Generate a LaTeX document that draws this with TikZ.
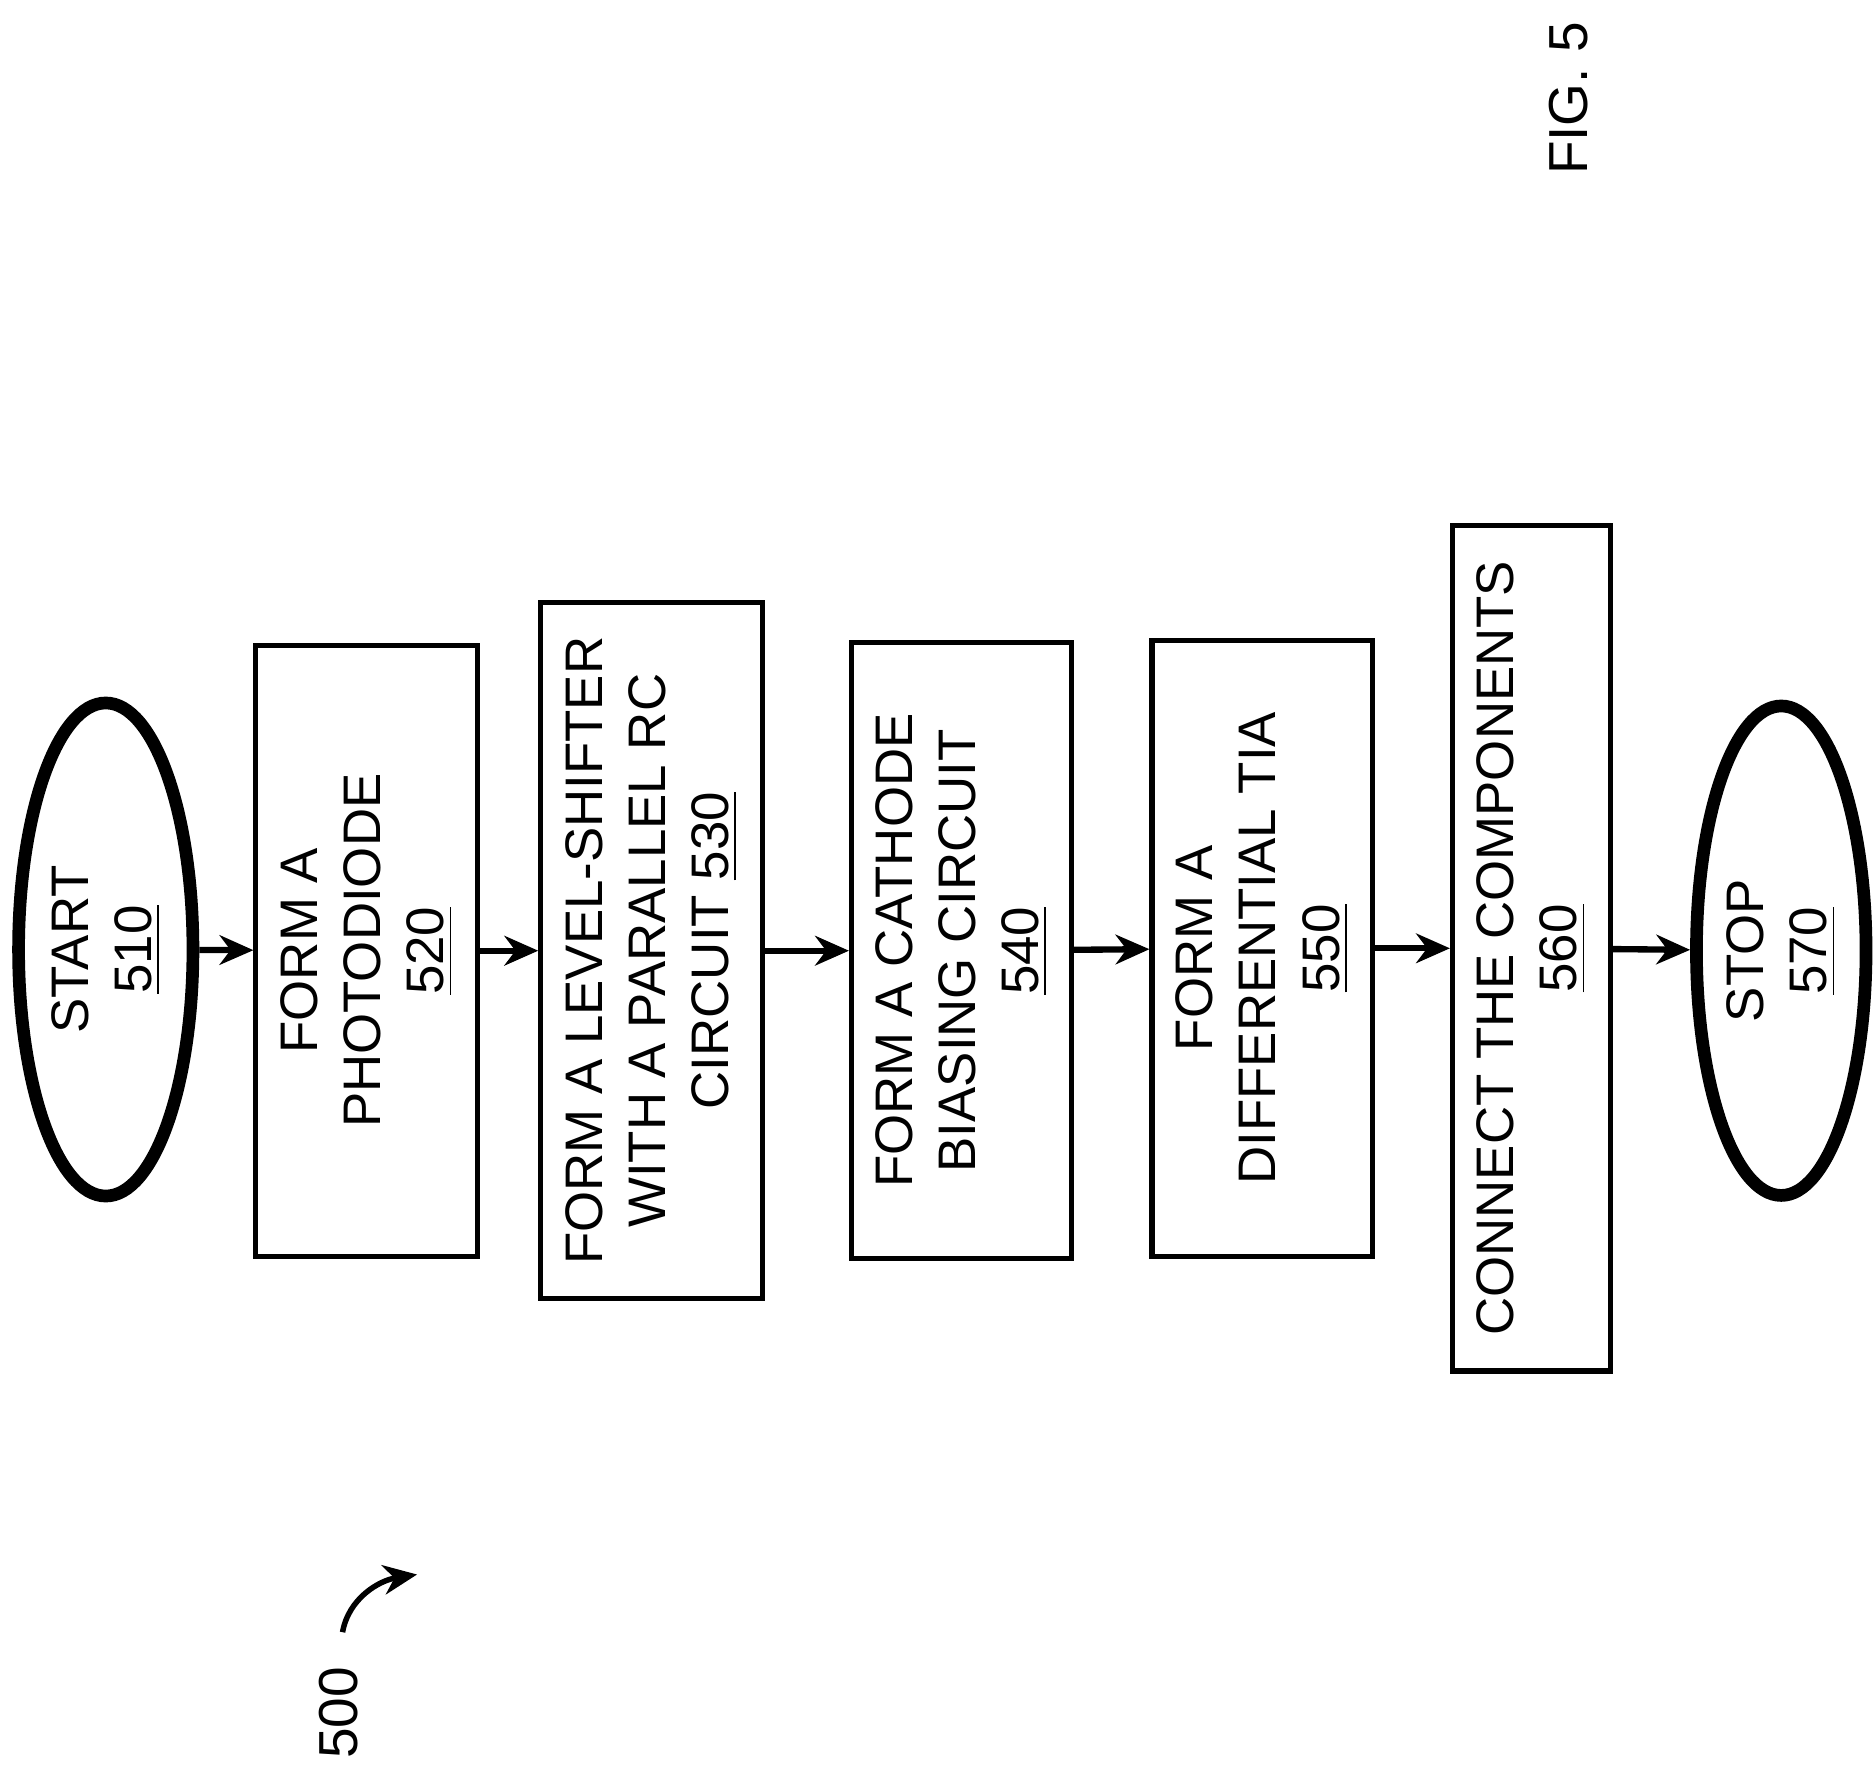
\documentclass[tikz,border=0pt]{standalone}
\usepackage{fontspec}
\setmainfont{Liberation Sans}
\usetikzlibrary{shapes.geometric,arrows.meta}
\begin{document}
\begin{tikzpicture}[x=0.01cm,y=-0.01cm,
  box/.style={draw,line width=1.2pt,rotate=90,align=center,font=\fontsize{12.5}{15}\selectfont,inner sep=0pt},
  oval/.style={draw,ellipse,line width=3pt,rotate=90,align=center,font=\fontsize{12.5}{15}\selectfont,inner sep=0pt},
  arr/.style={-{Stealth[length=8pt,width=7pt]},line width=1.5pt}]
\useasboundingbox (0,0) rectangle (1560,1474);
\node[oval,minimum width=4.1cm,minimum height=1.45cm] (s) at (88,790) {START\\\underline{510}};
\node[box,minimum width=5.08cm,minimum height=1.84cm] (b520) at (305,791) {FORM A\\PHOTODIODE\\\underline{520}};
\node[box,minimum width=5.79cm,minimum height=1.84cm] (b530) at (542,791) {FORM A LEVEL-SHIFTER\\WITH A PARALLEL RC\\CIRCUIT \underline{530}};
\node[box,minimum width=5.12cm,minimum height=1.83cm] (b540) at (800,791) {FORM A CATHODE\\BIASING CIRCUIT\\\underline{540}};
\node[box,minimum width=5.12cm,minimum height=1.83cm] (b550) at (1050,789) {FORM A\\DIFFERENTIAL TIA\\\underline{550}};
\node[box,minimum width=7.03cm,minimum height=1.31cm] (b560) at (1274,789) {CONNECT THE COMPONENTS\\\underline{560}};
\node[oval,minimum width=4.07cm,minimum height=1.41cm] (e) at (1482,791) {STOP\\\underline{570}};
\draw[arr] (s) -- (b520);
\draw[arr] (b520) -- (b530);
\draw[arr] (b530) -- (b540);
\draw[arr] (b540) -- (b550);
\draw[arr] (b550) -- (b560);
\draw[arr] (b560) -- (e);
\node[rotate=90,font=\fontsize{13}{15}\selectfont] (fig) at (1305,82) {FIG. 5};
\node[rotate=90,font=\fontsize{13}{15}\selectfont] (n500) at (282,1425) {500};
\coordinate (c1) at (285,1358);
\coordinate (c2) at (347,1310);
\draw[-{Stealth[length=8pt,width=7pt]},line width=1.3pt] (c1) .. controls (290,1330) and (315,1315) .. (c2);
\end{tikzpicture}
\end{document}
